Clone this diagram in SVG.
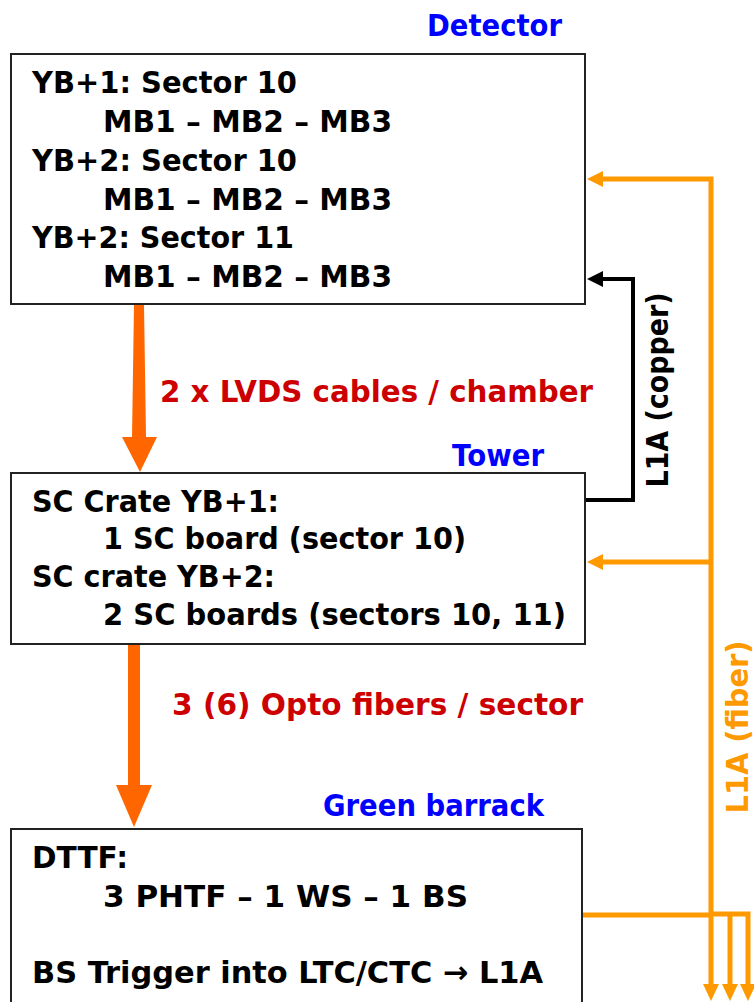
<svg xmlns="http://www.w3.org/2000/svg" width="754" height="1002" viewBox="0 0 754 1002">
<style>
text{font-family:"DejaVu Sans","Liberation Sans",sans-serif;font-weight:bold;font-size:31px;}
.blk{fill:#000;}
.red{fill:#CC0000;}
.blue{fill:#0000FF;}
.fib{fill:#FF9900;}
.box{fill:#fff;stroke:#222;stroke-width:2;}
.l1a{fill:none;stroke:#FF9900;stroke-width:5;}
.cu{fill:none;stroke:#000;stroke-width:4;}
.big{fill:#FF6600;}
.headO{fill:#FF9900;}
</style>
<rect x="0" y="0" width="754" height="1002" fill="#fff"/>
<g id="connectors">
  <polygon class="big" points="134,305 144,305 146,437 157,437 140,472 122,437 132,437"/>
  <polygon class="big" points="128,645 140,645 140,785 152,785 134,827 116,785 128,785"/>
  <polyline class="cu" points="586,500 633,500 633,279 600,279"/>
  <polygon fill="#000" points="587,279 603,271 603,287"/>
  <polyline class="l1a" points="711,985 711,179 600,179"/>
  <polygon class="headO" points="587,179 603,171 603,187"/>
  <line class="l1a" x1="711" y1="562" x2="600" y2="562"/>
  <polygon class="headO" points="587,562 603,554 603,570"/>
  <polyline class="l1a" points="583,915 711,915"/>
  <polyline class="l1a" points="711,914 748,914 748,985"/>
  <line class="l1a" x1="730" y1="914" x2="730" y2="985"/>
  <polygon class="headO" points="703,984 719,984 711,1001"/>
  <polygon class="headO" points="722,984 738,984 730,1001"/>
  <polygon class="headO" points="740,984 756,984 748,1001"/>
  <text class="red" x="160" y="402" textLength="433" lengthAdjust="spacingAndGlyphs">2 x LVDS cables / chamber</text>
  <text class="red" x="172" y="715" textLength="411" lengthAdjust="spacingAndGlyphs">3 (6) Opto fibers / sector</text>
  <text class="blk" transform="translate(668,390) rotate(-90)" text-anchor="middle" textLength="195" lengthAdjust="spacingAndGlyphs">L1A (copper)</text>
  <text class="fib" transform="translate(748,727) rotate(-90)" text-anchor="middle" textLength="173" lengthAdjust="spacingAndGlyphs">L1A (fiber)</text>
</g>
<g id="detector">
  <text class="blue" x="427" y="36" textLength="135" lengthAdjust="spacingAndGlyphs">Detector</text>
  <rect class="box" x="11" y="54" width="574" height="250"/>
  <text x="32" y="93" textLength="265" lengthAdjust="spacingAndGlyphs">YB+1: Sector 10</text>
  <text x="103" y="132" textLength="289" lengthAdjust="spacingAndGlyphs">MB1 – MB2 – MB3</text>
  <text x="32" y="171" textLength="265" lengthAdjust="spacingAndGlyphs">YB+2: Sector 10</text>
  <text x="103" y="210" textLength="289" lengthAdjust="spacingAndGlyphs">MB1 – MB2 – MB3</text>
  <text x="32" y="248" textLength="262" lengthAdjust="spacingAndGlyphs">YB+2: Sector 11</text>
  <text x="103" y="287" textLength="289" lengthAdjust="spacingAndGlyphs">MB1 – MB2 – MB3</text>
</g>
<g id="tower">
  <text class="blue" x="452" y="466" textLength="92" lengthAdjust="spacingAndGlyphs">Tower</text>
  <rect class="box" x="11" y="473" width="574" height="171"/>
  <text x="32" y="512" textLength="247" lengthAdjust="spacingAndGlyphs">SC Crate YB+1:</text>
  <text x="103" y="549" textLength="363" lengthAdjust="spacingAndGlyphs">1 SC board (sector 10)</text>
  <text x="32" y="587" textLength="243" lengthAdjust="spacingAndGlyphs">SC crate YB+2:</text>
  <text x="103" y="625" textLength="463" lengthAdjust="spacingAndGlyphs">2 SC boards (sectors 10, 11)</text>
</g>
<g id="green-barrack">
  <text class="blue" x="323" y="816" textLength="221" lengthAdjust="spacingAndGlyphs">Green barrack</text>
  <rect class="box" x="11" y="829" width="571" height="190"/>
  <text x="32" y="868" textLength="96" lengthAdjust="spacingAndGlyphs">DTTF:</text>
  <text x="103" y="907" textLength="365" lengthAdjust="spacingAndGlyphs">3 PHTF – 1 WS – 1 BS</text>
  <text x="32" y="983" textLength="511" lengthAdjust="spacingAndGlyphs">BS Trigger into LTC/CTC → L1A</text>
</g>
</svg>
